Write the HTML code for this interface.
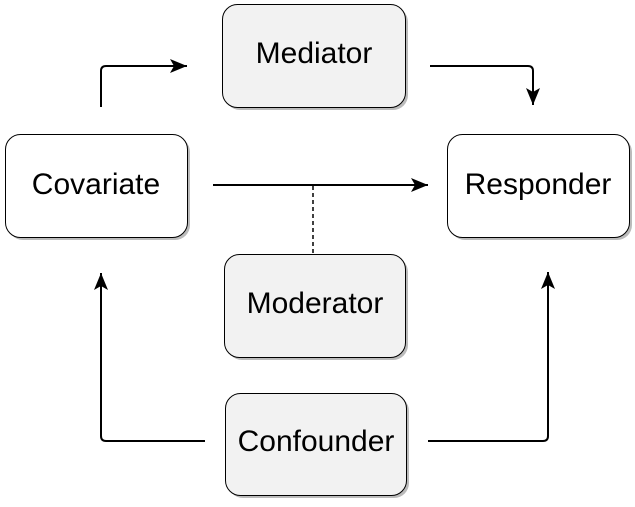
<!DOCTYPE html>
<html><head><meta charset="utf-8"><style>
html,body{margin:0;padding:0;background:#fff;width:635px;height:507px;overflow:hidden}
</style></head><body>
<svg width="635" height="507" viewBox="0 0 635 507" xmlns="http://www.w3.org/2000/svg" font-family="Liberation Sans, sans-serif">
<defs>
<marker id="a" markerWidth="17" markerHeight="14" refX="17" refY="7" orient="auto" markerUnits="userSpaceOnUse" viewBox="0 0 17 14">
<path d="M0,0 L17,7 L0,14 L4,7 Z" fill="#000"/>
</marker>
</defs>
<g fill="#bbb">
<rect x="225" y="7" width="183" height="103" rx="15"/>
<rect x="8" y="137" width="182" height="103" rx="15"/>
<rect x="450" y="137" width="182" height="103" rx="15"/>
<rect x="227" y="257" width="181" height="103" rx="15"/>
<rect x="228" y="396" width="181" height="102" rx="15"/>
</g>
<g stroke="#000" stroke-width="1">
<rect x="222.5" y="4.5" width="183" height="103" rx="15" fill="#f2f2f2"/>
<rect x="5.5" y="134.5" width="182" height="103" rx="15" fill="#fff"/>
<rect x="447.5" y="134.5" width="182" height="103" rx="15" fill="#fff"/>
<rect x="224.5" y="254.5" width="181" height="103" rx="15" fill="#f2f2f2"/>
<rect x="225.5" y="393.5" width="181" height="102" rx="15" fill="#f2f2f2"/>
</g>
<g fill="none" stroke="#000" stroke-width="2">
<path d="M101,107 V71 Q101,66 106,66 H187" marker-end="url(#a)"/>
<path d="M430,66 H528 Q533,66 533,71 V105" marker-end="url(#a)"/>
<path d="M213,185 H428" marker-end="url(#a)"/>
<path d="M205,441 H106 Q101,441 101,436 V273" marker-end="url(#a)"/>
<path d="M428,441 H543 Q548,441 548,436 V272" marker-end="url(#a)"/>
</g>
<path d="M313,186 V254" stroke="#000" stroke-width="1.5" stroke-dasharray="4,3"/>
<g font-size="30" text-anchor="middle" fill="#000">
<text x="314" y="63">Mediator</text>
<text x="96" y="194">Covariate</text>
<text x="538" y="194">Responder</text>
<text x="315" y="313">Moderator</text>
<text x="316" y="451">Confounder</text>
</g>
</svg>
</body></html>
